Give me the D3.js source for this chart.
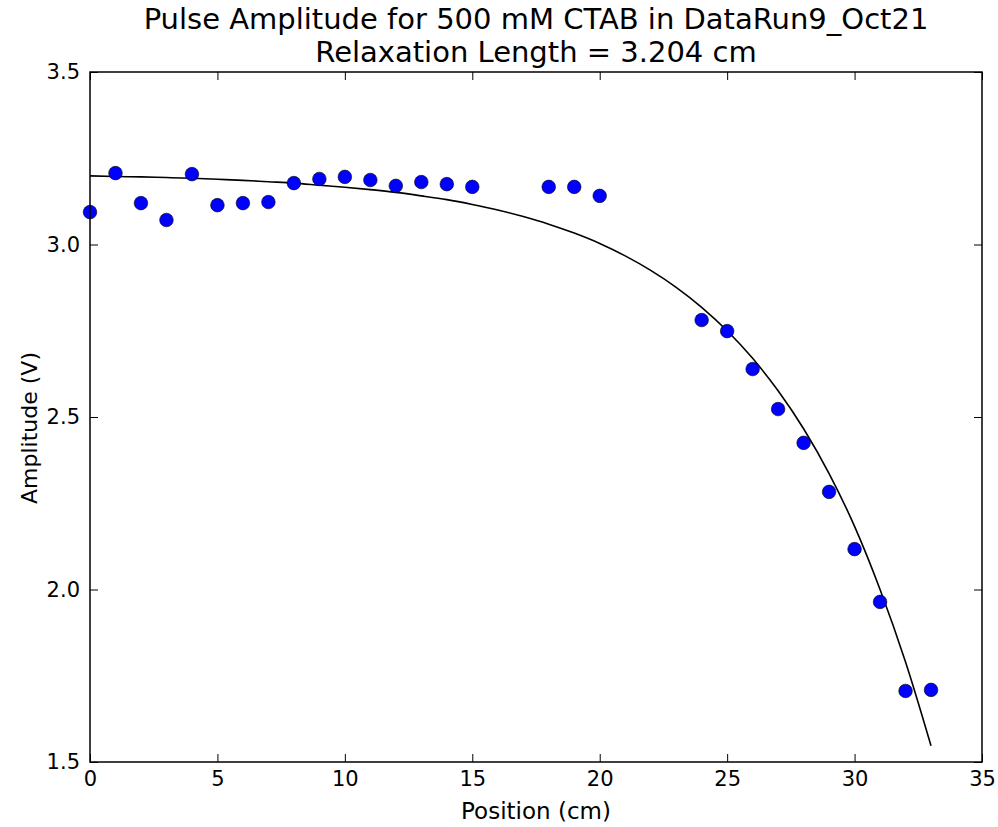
<!DOCTYPE html>
<html><head><meta charset="utf-8">
<script src="https://cdn.jsdelivr.net/npm/d3@7"></script>
<style>body{margin:0;background:#fff}svg{display:block}text{font-family:"DejaVu Sans",sans-serif;fill:#000}</style>
</head><body>
<script>
const positions = [0,1,2,3,4,5,6,7,8,9,10,11,12,13,14,15,18,19,20,24,25,26,27,28,29,30,31,32,33];
const amplitudes = [3.094,3.207,3.120,3.071,3.204,3.114,3.120,3.123,3.178,3.190,3.196,3.187,3.170,3.181,3.175,3.167,3.167,3.167,3.141,2.781,2.749,2.639,2.523,2.425,2.283,2.117,1.964,1.706,1.709];
const fitX = [0,1,2,3,4,5,6,7,8,9,10,11,12,13,14,15,16,17,18,19,20,21,22,23,24,25,26,27,28,29,30,31,32,33];
const fitY = [3.199,3.197,3.196,3.194,3.192,3.189,3.186,3.182,3.178,3.172,3.166,3.159,3.151,3.141,3.130,3.116,3.100,3.081,3.059,3.033,3.003,2.967,2.925,2.876,2.818,2.750,2.670,2.576,2.466,2.336,2.183,2.000,1.790,1.547];
const xTicks = [0,5,10,15,20,25,30,35];
const yTicks = [1.5,2.0,2.5,3.0,3.5];
const titleLines = ["Pulse Amplitude for 500 mM CTAB in DataRun9_Oct21","Relaxation Length = 3.204 cm"];

const W=998,H=827, L=90,R=982,T=72,B=762;
const svg=d3.select("body").append("svg").attr("width",W).attr("height",H);
const x=d3.scaleLinear().domain([0,35]).range([L,R]);
const y=d3.scaleLinear().domain([1.5,3.5]).range([B,T]);

const line=d3.line().x((d,i)=>x(fitX[i])).y(d=>y(d)).curve(d3.curveMonotoneX);
svg.append("path").attr("d",line(fitY)).attr("fill","none").attr("stroke","#000").attr("stroke-width",1.6);

svg.append("g").selectAll("circle").data(positions).join("circle")
  .attr("cx",d=>x(d)).attr("cy",(d,i)=>y(amplitudes[i])).attr("r",6.8)
  .attr("fill","#0000ff").attr("stroke","#000").attr("stroke-width",0.6);

const tl=8, fs=21;
const axB=d3.axisBottom(x).tickValues(xTicks).tickSize(-tl).tickPadding(9).tickFormat(d3.format("d"));
const axT=d3.axisTop(x).tickValues(xTicks).tickSize(-tl).tickFormat("");
const axLf=d3.axisLeft(y).tickValues(yTicks).tickSize(-tl).tickPadding(10).tickFormat(d3.format(".1f"));
const axRt=d3.axisRight(y).tickValues(yTicks).tickSize(-tl).tickFormat("");
function style(g){g.select(".domain").remove();g.selectAll(".tick line").attr("stroke","#000").attr("stroke-width",1);g.selectAll("text").attr("font-size",fs).attr("font-family","DejaVu Sans");}
svg.append("g").attr("transform",`translate(0,${B})`).call(axB).call(style);
svg.append("g").attr("transform",`translate(0,${T})`).call(axT).call(style);
svg.append("g").attr("transform",`translate(${L},0)`).call(axLf).call(style);
svg.append("g").attr("transform",`translate(${R},0)`).call(axRt).call(style);
svg.append("rect").attr("x",L).attr("y",T).attr("width",R-L).attr("height",B-T).attr("fill","none").attr("stroke","#000").attr("stroke-width",1.5);

svg.append("text").attr("x",(L+R)/2).attr("y",819).attr("text-anchor","middle").attr("font-size",23).text("Position (cm)");
svg.append("text").attr("transform",`translate(37,${(T+B)/2+11}) rotate(-90)`).attr("text-anchor","middle").attr("font-size",22).text("Amplitude (V)");
svg.selectAll("text.title").data(titleLines).join("text").attr("class","title")
  .attr("x",(L+R)/2).attr("y",(d,i)=>29+i*33).attr("text-anchor","middle").attr("font-size",29).text(d=>d);
</script>
</body></html>
